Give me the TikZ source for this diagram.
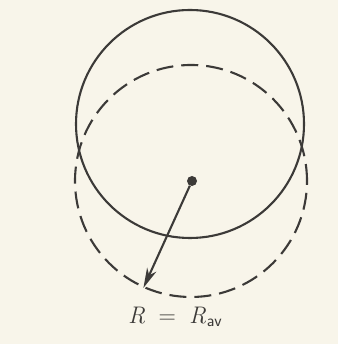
\documentclass[tikz,border=0pt]{standalone}
\usepackage{xcolor}
\usepackage{tikz}
\usetikzlibrary{
  arrows.meta,
  positioning,
  calc
}
\definecolor{rdPaper}{HTML}{F8F5EA}
\definecolor{rdInk}{HTML}{3C3A38}
\tikzset{
  shell/.style={
    draw=rdInk, circle, line width=2.1pt, inner sep=0pt
  },
  solidshell/.style={shell, minimum size=228pt},
  dashshell/.style={shell, minimum size=232pt, dash pattern=on 17pt off 8pt},
  centre/.style={circle, fill=rdInk, inner sep=0pt, minimum size=10pt},
  radius/.style={-{Stealth[length=20pt, width=10pt, inset=6pt]}, line width=2.1pt, rdInk},
  tag/.style={font=\fontsize{24}{28}\selectfont, text=rdInk}
}
\begin{document}
\begin{tikzpicture}[x=1pt, y=1pt]
  \fill[rdPaper] (0,0) rectangle (338,344);
  \useasboundingbox (0,0) rectangle (338,344);
  \node[solidshell] (sph) at (190,220) {};
  \node[dashshell] (avg) at (191,163) {};
  \node[centre] (c) at (192,163) {};
  \draw[radius] (c) -- (avg.246);
  \node[tag] (lbl) at (175,27) {\textit{R}\;\;=\;\;\textit{R}\kern0.5pt\raisebox{-0.3ex}{\fontsize{17}{20}\selectfont\sffamily av}};
\end{tikzpicture}
\end{document}
